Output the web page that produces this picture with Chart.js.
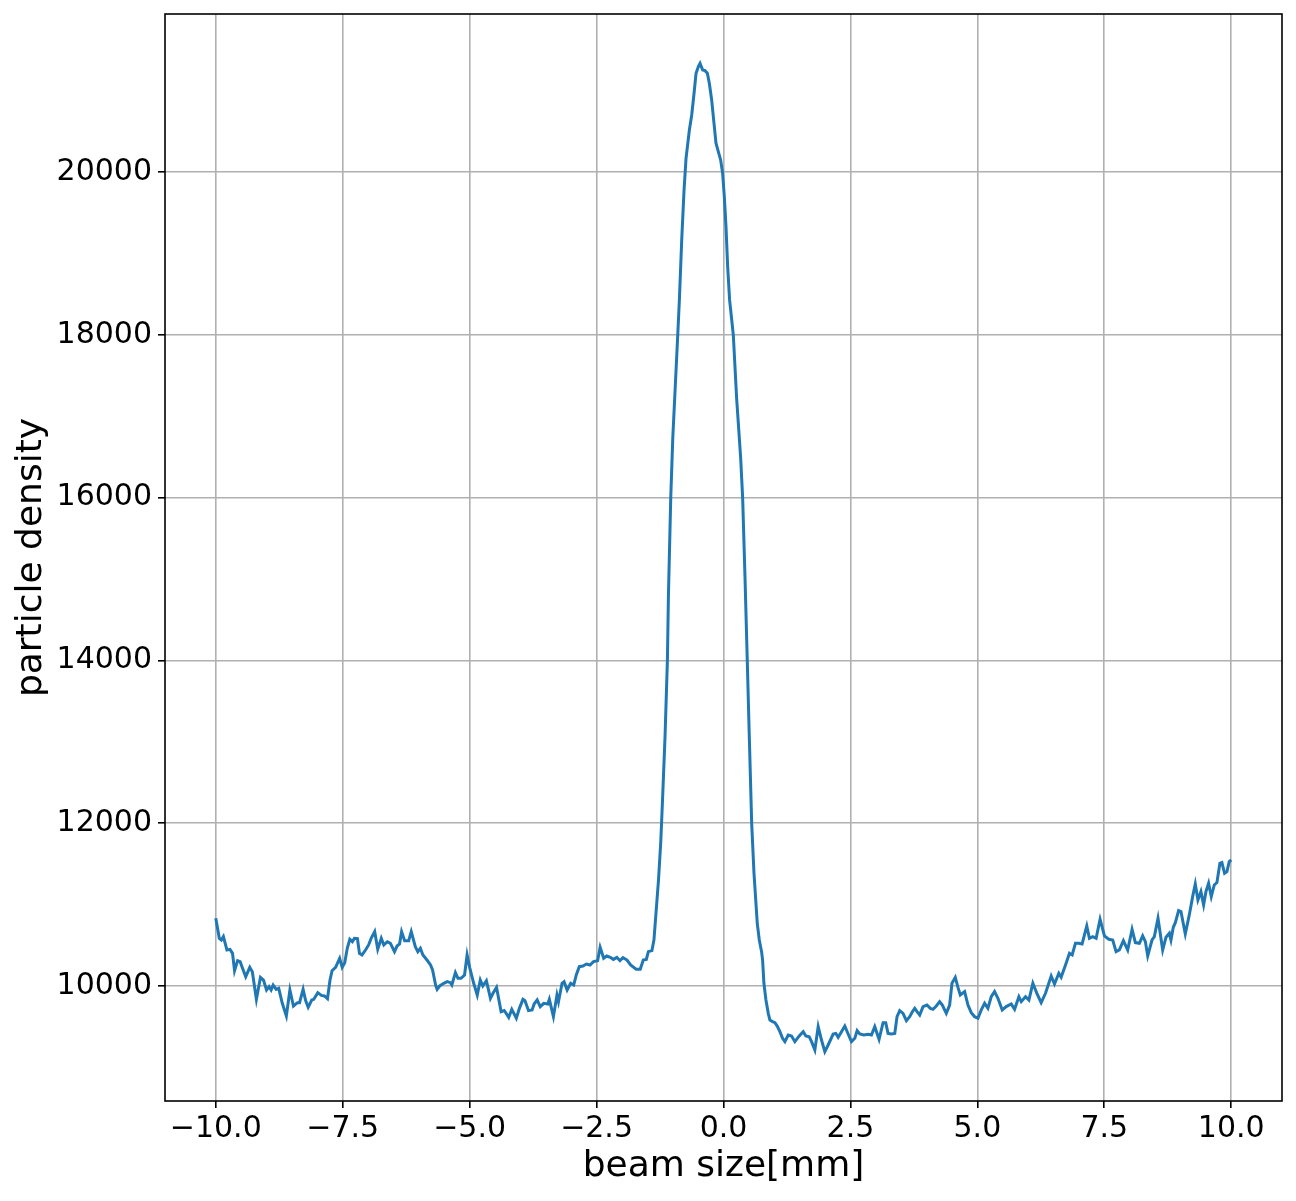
<!DOCTYPE html>
<html>
<head>
<meta charset="utf-8">
<script src="https://cdn.jsdelivr.net/npm/chart.js@4"></script>
<style>
  html, body { margin: 0; padding: 0; background: #fff; }
</style>
</head>
<body>
<canvas id="chart" width="1296" height="1201"></canvas>
<script>
// beam profile
const beamX = [
  -10.00, -9.93, -9.89, -9.85, -9.78, -9.72, -9.67, -9.63, -9.57, -9.52,
  -9.48, -9.41, -9.33, -9.28, -9.20, -9.12, -9.06, -9.00, -8.95, -8.91,
  -8.87, -8.81, -8.76, -8.69, -8.61, -8.54, -8.47, -8.39, -8.35, -8.28,
  -8.23, -8.18, -8.11, -8.07, -7.99, -7.92, -7.86, -7.80, -7.75, -7.71,
  -7.64, -7.56, -7.51, -7.46, -7.41, -7.36, -7.31, -7.27, -7.21, -7.17,
  -7.12, -7.05, -6.99, -6.94, -6.87, -6.81, -6.74, -6.69, -6.62, -6.56,
  -6.48, -6.43, -6.38, -6.34, -6.28, -6.20, -6.15, -6.07, -6.02, -5.97,
  -5.92, -5.84, -5.77, -5.73, -5.67, -5.64, -5.59, -5.51, -5.44, -5.38,
  -5.35, -5.28, -5.23, -5.17, -5.10, -5.05, -5.00, -4.92, -4.85, -4.79,
  -4.74, -4.67, -4.59, -4.54, -4.47, -4.38, -4.32, -4.28, -4.23, -4.17,
  -4.08, -4.02, -3.95, -3.91, -3.84, -3.77, -3.73, -3.67, -3.61, -3.54,
  -3.46, -3.43, -3.35, -3.28, -3.25, -3.18, -3.14, -3.08, -3.01, -2.95,
  -2.90, -2.84, -2.77, -2.70, -2.63, -2.56, -2.48, -2.43, -2.36, -2.30,
  -2.23, -2.17, -2.10, -2.04, -1.98, -1.90, -1.83, -1.72, -1.64, -1.58,
  -1.52, -1.48, -1.41, -1.37, -1.33, -1.31, -1.28, -1.235, -1.196, -1.150,
  -1.105, -1.085, -1.039, -0.999, -0.901, -0.869, -0.823, -0.777, -0.738, -0.672,
  -0.626, -0.580, -0.541, -0.495, -0.462, -0.410, -0.364, -0.318, -0.279, -0.233,
  -0.187, -0.148, -0.102, -0.056, -0.017, 0.016, 0.049, 0.082, 0.12, 0.193,
  0.259, 0.338, 0.377, 0.423, 0.468, 0.507, 0.555, 0.600, 0.665, 0.705,
  0.750, 0.770, 0.796, 0.836, 0.882, 0.914, 0.967, 1.013, 1.058, 1.111,
  1.163, 1.209, 1.275, 1.340, 1.406, 1.491, 1.570, 1.622, 1.688, 1.734,
  1.799, 1.865, 1.930, 1.996, 2.061, 2.160, 2.212, 2.258, 2.324, 2.389,
  2.455, 2.520, 2.586, 2.632, 2.684, 2.763, 2.848, 2.914, 2.979, 3.064,
  3.143, 3.195, 3.241, 3.307, 3.373, 3.418, 3.471, 3.536, 3.602, 3.667,
  3.720, 3.766, 3.812, 3.864, 3.930, 4.008, 4.074, 4.126, 4.192, 4.257,
  4.310, 4.388, 4.454, 4.500, 4.565, 4.618, 4.664, 4.749, 4.815, 4.880,
  4.946, 5.012, 5.077, 5.143, 5.208, 5.274, 5.339, 5.405, 5.490, 5.569,
  5.667, 5.733, 5.818, 5.864, 5.949, 6.015, 6.093, 6.172, 6.257, 6.342,
  6.454, 6.519, 6.604, 6.650, 6.736, 6.814, 6.867, 6.932, 6.998, 7.063,
  7.155, 7.207, 7.273, 7.339, 7.417, 7.503, 7.588, 7.666, 7.732, 7.797,
  7.876, 7.961, 8.047, 8.112, 8.191, 8.256, 8.309, 8.355, 8.440, 8.486,
  8.558, 8.650, 8.715, 8.781, 8.813, 8.859, 8.899, 8.964, 9.010, 9.095,
  9.174, 9.240, 9.292, 9.344, 9.403, 9.456, 9.502, 9.554, 9.607, 9.666,
  9.718, 9.777, 9.816, 9.869, 9.915, 9.961, 10.00
];
const density = [
  10831, 10585, 10565, 10606, 10442, 10450, 10401, 10188, 10311, 10299,
  10229, 10114, 10229, 10176, 9836, 10106, 10073, 9951, 9992, 9951,
  10012, 9959, 9971, 9787, 9631, 9951, 9754, 9795, 9795, 9959,
  9820, 9738, 9828, 9836, 9918, 9885, 9877, 9844, 10073, 10188,
  10229, 10340, 10229, 10286, 10463, 10573, 10544, 10585, 10581, 10401,
  10381, 10442, 10504, 10585, 10667, 10450, 10585, 10504, 10544, 10524,
  10422, 10491, 10516, 10667, 10557, 10557, 10667, 10483, 10422, 10463,
  10381, 10319, 10258, 10196, 10012, 9959, 10000, 10033, 10053, 10041,
  10012, 10164, 10094, 10094, 10135, 10381, 10229, 10033, 9889, 10073,
  10000, 10065, 9848, 9910, 9983, 9684, 9697, 9664, 9615, 9713,
  9603, 9725, 9836, 9820, 9697, 9705, 9779, 9828, 9746, 9787,
  9779, 9836, 9623, 9889, 9807, 10033, 10053, 9951, 10033, 10012,
  10135, 10237, 10245, 10270, 10258, 10299, 10311, 10475, 10340, 10368,
  10352, 10327, 10352, 10311, 10348, 10319, 10258, 10205, 10205, 10319,
  10327, 10422, 10434, 10565, 10893, 11059, 11302, 11778, 12361, 13090,
  14000, 14789, 16000, 16731, 18000, 18428, 19165, 19779, 20168, 20516,
  20701, 20967, 21213, 21294, 21335, 21253, 21245, 21213, 21090, 20885,
  20598, 20353, 20250, 20148, 19984, 19697, 19329, 18837, 18428, 18000,
  17216, 16488, 16000, 15032, 14000, 13090, 12000, 11389, 10770, 10565,
  10422, 10319, 10033, 9828, 9664, 9582, 9562, 9549, 9508, 9439,
  9357, 9316, 9398, 9386, 9316, 9386, 9439, 9386, 9377, 9316,
  9214, 9500, 9336, 9193, 9275, 9410, 9418, 9369, 9439, 9508,
  9410, 9316, 9357, 9451, 9410, 9398, 9406, 9398, 9500, 9345,
  9549, 9549, 9418, 9410, 9418, 9623, 9697, 9664, 9574, 9623,
  9684, 9725, 9684, 9644, 9746, 9766, 9725, 9713, 9754, 9807,
  9766, 9664, 9766, 10033, 10106, 9983, 9889, 9930, 9766, 9672,
  9623, 9603, 9706, 9787, 9726, 9869, 9931, 9849, 9706, 9747,
  9779, 9714, 9869, 9808, 9869, 9828, 10033, 9910, 9796, 9910,
  10123, 10025, 10156, 10107, 10258, 10402, 10381, 10525, 10525, 10516,
  10737, 10586, 10606, 10586, 10819, 10615, 10574, 10565, 10422, 10443,
  10557, 10442, 10696, 10533, 10525, 10615, 10545, 10369, 10565, 10606,
  10832, 10442, 10598, 10647, 10565, 10721, 10778, 10926, 10914, 10639,
  10873, 11098, 11253, 11057, 11159, 10996, 11159, 11262, 11098, 11241,
  11270, 11507, 11516, 11384, 11405, 11528, 11548
];

const xTicks = [-10, -7.5, -5, -2.5, 0, 2.5, 5, 7.5, 10];
const yTicks = [10000, 12000, 14000, 16000, 18000, 20000];
const xRange = [-11, 11];
const yRange = [8587, 21941];

const points = beamX.map(function (x, i) {
    return { x: x, y: density[i] };
});

const minus = (s) => s.replace('-', '\u2212');

// matplotlib style box round the plot
const frame = {
    id: 'frame',
    afterDraw(chart) {
        const a = chart.chartArea;
        const ctx = chart.ctx;
        ctx.save();
        ctx.strokeStyle = '#000';
        ctx.lineWidth = 1.6;
        ctx.strokeRect(a.left, a.top, a.right - a.left, a.bottom - a.top);
        ctx.restore();
    }
};

const ctx = document.getElementById('chart').getContext('2d');
new Chart(ctx, {
    type: 'line',
    data: {
        datasets: [{
            data: points,
            borderColor: '#1f77b4',
            borderWidth: 3,
            pointRadius: 0,
            tension: 0,
            fill: false,
        }],
    },
    options: {
        responsive: false,
        animation: false,
        devicePixelRatio: 1,
        layout: { padding: { top: 14, right: 14, left: 0, bottom: 0 } },
        plugins: {
            legend: { display: false },
            tooltip: { enabled: false },
        },
        scales: {
            x: {
                type: 'linear',
                min: xRange[0],
                max: xRange[1],
                afterBuildTicks: (scale) => { scale.ticks = xTicks.map(v => ({ value: v })); },
                afterFit: (scale) => {
                    scale.height = 100;
                    scale.paddingLeft = 0;
                    scale.paddingRight = 0;
                },
                grid: { color: '#b0b0b0', lineWidth: 1.6, tickColor: '#000', tickLength: 7, tickWidth: 1.6 },
                border: { display: false },
                ticks: {
                    color: '#000',
                    padding: 3,
                    maxRotation: 0,
                    font: { family: 'DejaVu Sans', size: 30 },
                    callback: (v) => minus(Number(v).toFixed(1)),
                },
                title: {
                    display: true,
                    text: 'beam size[mm]',
                    color: '#000',
                    font: { family: 'DejaVu Sans', size: 36 },
                    padding: { top: 0, bottom: 13 },
                },
            },
            y: {
                type: 'linear',
                min: yRange[0],
                max: yRange[1],
                afterBuildTicks: (scale) => { scale.ticks = yTicks.map(v => ({ value: v })); },
                afterFit: (scale) => {
                    scale.width = 165;
                    scale.paddingTop = 0;
                    scale.paddingBottom = 0;
                },
                grid: { color: '#b0b0b0', lineWidth: 1.6, tickColor: '#000', tickLength: 7, tickWidth: 1.6 },
                border: { display: false },
                ticks: {
                    color: '#000',
                    padding: 6,
                    font: { family: 'DejaVu Sans', size: 30 },
                    callback: (v) => String(v),
                },
                title: {
                    display: true,
                    text: 'particle density',
                    color: '#000',
                    font: { family: 'DejaVu Sans', size: 36 },
                    padding: { top: 10, bottom: 0 },
                },
            },
        },
    },
    plugins: [frame],
});
</script>
</body>
</html>
